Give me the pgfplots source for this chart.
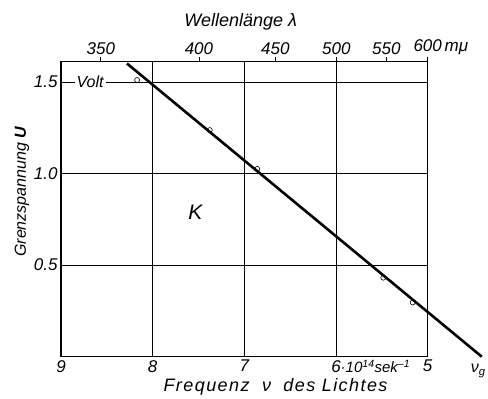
\documentclass[border=0pt]{standalone}
\usepackage{pgfplots}
\pgfplotsset{compat=1.18}
\usepackage{fontspec}
\setmainfont{Liberation Sans}
\newcommand{\lbl}{\fontsize{16}{18}\selectfont\itshape}
\newcommand{\ticklbl}{\fontsize{17}{19}\selectfont\itshape}
\newcommand{\biglbl}{\fontsize{18}{20}\selectfont\itshape}
\newcommand{\tl}[1]{\mbox{\ticklbl #1}}
\begin{document}
\begin{tikzpicture}
\begin{axis}[
    at={(0,0)}, anchor=south west,
    scale only axis, width=366.7pt, height=295pt,
    xmin=5, xmax=9, x dir=reverse,
    ymin=0, ymax=1.61,
    xtick={5,6,7,8,9},
    xticklabels={\tl{5},\tl{6\rlap{\fontsize{15}{17}\selectfont·10\textsuperscript{14}sek\textsuperscript{–1}}},\tl{7},\tl{8},\tl{9}},
    ytick={0.5,1,1.5},
    yticklabels={\tl{0.5},\tl{1.0},\tl{1.5}},
    major tick length=0pt,
    grid=major,
    major grid style={black, line width=0.6pt},
    axis line style={black, line width=1.2pt},
    tick label style={font=\ticklbl},
    clip=false,
]
\addplot[black, line width=2.6pt] coordinates {(8.28,1.60) (4.41,0)};
\addplot[only marks, mark=o, mark size=2.5pt, mark options={fill=white, line width=0.6pt}]
    coordinates {(8.17,1.51) (7.377,1.237) (6.859,1.025) (5.485,0.431) (5.163,0.296)};
\node[fill=white, inner xsep=2pt, inner ysep=1pt, font=\lbl] at (axis cs:8.683,1.5) {Volt};
\node[font=\fontsize{21}{24}\selectfont\itshape] at (axis cs:7.534,0.786) {K};
\node[font=\lbl, anchor=north] at (axis cs:4.45,0) [yshift=-4pt] {ν\textsubscript{g}};
\node[font=\biglbl, anchor=base] at ([yshift=-35pt]axis cs:6.66,0)
    {\addfontfeatures{LetterSpace=8}Frequenz\hspace{6pt} ν\hspace{6pt} des Lichtes};
\node[font=\biglbl, anchor=base] at ([yshift=34.7pt]axis cs:7.04,1.61) {Wellenlänge λ};
\node[font=\lbl, rotate=90] at ([xshift=-39pt]axis cs:9,0.90) {Grenzspannung \textbf{U}};
\end{axis}
\begin{axis}[
    at={(0,0)}, anchor=south west,
    scale only axis, width=366.7pt, height=295pt,
    xmin=5, xmax=9, x dir=reverse,
    ymin=0, ymax=1.61,
    axis x line*=top, axis y line=none,
    xtick={8.566,7.495,6.662,5.996,5.451,5},
    xticklabels={\tl{350},\tl{400},\tl{450},\tl{500},\tl{550},\tl{600\rlap{\,mμ}}},
    tick align=outside,
    major tick length=4.5pt,
    tick style={black, line width=0.6pt},
    axis line style={black, line width=1.2pt},
    tick label style={font=\ticklbl},
    xticklabel style={yshift=-1pt},
]
\end{axis}
\pgfresetboundingbox
\useasboundingbox (-61pt,-42.3pt) rectangle (427pt,356.7pt);
\end{tikzpicture}
\end{document}
